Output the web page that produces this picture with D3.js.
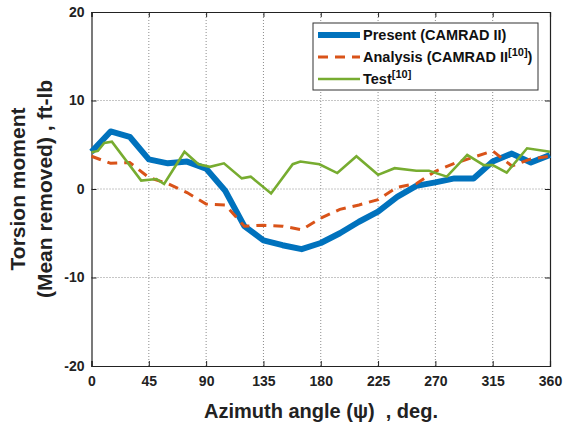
<!DOCTYPE html>
<html>
<head>
<meta charset="utf-8">
<script src="https://cdn.jsdelivr.net/npm/d3@7"></script>
<style>
  body { margin: 0; background: #fff; }
  text { font-family: Arial, "Liberation Sans", sans-serif; font-weight: bold; }
</style>
</head>
<body>
<div id="chart"></div>
<script>
// azimuth (deg) for the two analyses, every 15 deg
const azimuth = [0, 15, 30, 45, 60, 75, 90, 105, 120, 135, 150, 165, 180,
                 195, 210, 225, 240, 255, 270, 285, 300, 315, 330, 345, 360];
const present = [4.2, 6.5, 5.9, 3.35, 2.9, 3.1, 2.3, -0.2, -4.2, -5.8, -6.35, -6.8, -6.1,
                 -5.0, -3.7, -2.55, -0.9, 0.35, 0.75, 1.2, 1.2, 3.1, 4.0, 3.0, 3.85];
const analysis = [3.7, 2.9, 3.0, 1.3, 0.6, -0.4, -1.7, -1.8, -4.2, -4.1, -4.2, -4.6, -3.3,
                  -2.3, -1.8, -1.2, 0.2, 0.6, 2.0, 2.9, 3.6, 4.3, 2.6, 3.4, 3.7];
// test data, irregular azimuth stations
const testAz = [0, 5, 10, 16, 39, 51, 57, 73, 84, 93, 104, 118, 125, 141, 158, 164, 179,
                193, 208, 225, 238, 255, 265, 279, 295, 308, 315, 326, 342, 360];
const testVal = [4.15, 4.3, 5.2, 5.35, 0.95, 1.13, 0.56, 4.2, 2.8, 2.5, 2.9, 1.2, 1.4, -0.5, 2.8, 3.1, 2.8,
                 1.8, 3.7, 1.6, 2.35, 2.07, 2.07, 1.4, 3.85, 2.7, 2.7, 1.85, 4.6, 4.2];
const xTicks = [0, 45, 90, 135, 180, 225, 270, 315, 360];
const yTicks = [-20, -10, 0, 10, 20];

let width = 563, height = 425,
    margin = { left: 91.5, top: 12, right: 13, bottom: 59 };

let svg = d3.select('#chart')
            .append('svg')
            .attr('width', width)
            .attr('height', height);

let x = d3.scaleLinear()
          .domain([0, 360])
          .range([margin.left, width - margin.right]);

let y = d3.scaleLinear()
          .domain([-20, 20])
          .range([height - margin.bottom, margin.top]);

// grid
let grid = svg.append('g');
grid.selectAll('line.gx')
    .data(xTicks.slice(1, -1))
    .enter().append('line')
    .attr('x1', d => x(d)).attr('x2', d => x(d))
    .attr('y1', y(-20)).attr('y2', y(20))
    .attr('stroke', '#8c8c8c').attr('stroke-width', 1)
    .attr('stroke-dasharray', '1,2');
grid.selectAll('line.gy')
    .data(yTicks.slice(1, -1))
    .enter().append('line')
    .attr('y1', d => y(d)).attr('y2', d => y(d))
    .attr('x1', x(0)).attr('x2', x(360))
    .attr('stroke', '#8c8c8c').attr('stroke-width', 1)
    .attr('stroke-dasharray', '1,2');

// axes (ticks inward, box)
let fmt = d => String(d); // plain hyphen minus like the original
let xAxis = d3.axisBottom(x).tickValues(xTicks).tickSize(-5).tickPadding(10).tickFormat(fmt);
let yAxis = d3.axisLeft(y).tickValues(yTicks).tickSize(-5).tickPadding(10).tickFormat(fmt);

let gx = svg.append('g')
   .attr('transform', 'translate(0,' + y(-20) + ')')
   .call(xAxis);
let gy = svg.append('g')
   .attr('transform', 'translate(' + x(0) + ',0)')
   .call(yAxis);
svg.append('g')
   .attr('transform', 'translate(0,' + y(20) + ')')
   .call(d3.axisTop(x).tickValues(xTicks).tickSize(-5).tickFormat(''));
svg.append('g')
   .attr('transform', 'translate(' + x(360) + ',0)')
   .call(d3.axisRight(y).tickValues(yTicks).tickSize(-5).tickFormat(''));

svg.selectAll('.domain').attr('stroke', '#222').attr('stroke-width', 1.2);
svg.selectAll('.tick line').attr('stroke', '#222');
svg.selectAll('.tick text')
   .style('font-size', '14px')
   .style('font-family', 'Arial, "Liberation Sans", sans-serif')
   .style('font-weight', 'bold')
   .attr('fill', '#222');
gy.selectAll('.tick text').attr('x', -7);

// lines
let lineA = d3.line().x((d, i) => x(azimuth[i])).y(d => y(d));
let lineT = d3.line().x((d, i) => x(testAz[i])).y(d => y(d));

let plot = svg.append('g');
plot.append('path')
    .datum(present)
    .attr('d', lineA)
    .attr('fill', 'none')
    .attr('stroke', '#0072BD')
    .attr('stroke-width', 6)
    .attr('stroke-linejoin', 'round');
plot.append('path')
    .datum(analysis)
    .attr('d', lineA)
    .attr('fill', 'none')
    .attr('stroke', '#D95319')
    .attr('stroke-width', 3)
    .attr('stroke-dasharray', '10,7');
plot.append('path')
    .datum(testVal)
    .attr('d', lineT)
    .attr('fill', 'none')
    .attr('stroke', '#77AC30')
    .attr('stroke-width', 2.6);

// axis titles
svg.append('text')
   .attr('x', 321).attr('y', 418)
   .attr('text-anchor', 'middle')
   .style('font-size', '20px')
   .style('white-space', 'pre')
   .attr('fill', '#222')
   .text('Azimuth angle (\u03c8)\u00a0\u00a0, deg.');

let yt = svg.append('text')
   .attr('transform', 'translate(25,189) rotate(-90)')
   .attr('text-anchor', 'middle')
   .style('font-size', '21px')
   .attr('fill', '#222');
yt.append('tspan').attr('x', 0).attr('y', 0).text('Torsion moment');
yt.append('tspan').attr('x', 0).attr('y', 27).text('(Mean removed) , ft-lb');

// legend
let leg = svg.append('g').attr('transform', 'translate(313,23)');
leg.append('rect')
   .attr('width', 225).attr('height', 67)
   .attr('fill', '#fff')
   .attr('stroke', '#333').attr('stroke-width', 1);
let items = [
  { name: 'Present (CAMRAD II)', sup: '', tail: '', color: '#0072BD', w: 6, dash: null },
  { name: 'Analysis (CAMRAD II', sup: '[10]', tail: ')', color: '#D95319', w: 3, dash: '10,7' },
  { name: 'Test', sup: '[10]', tail: '', color: '#77AC30', w: 2.6, dash: null }
];
items.forEach(function (it, i) {
  let cy = 12 + i * 22;
  leg.append('line')
     .attr('x1', 5).attr('x2', 47)
     .attr('y1', cy).attr('y2', cy)
     .attr('stroke', it.color).attr('stroke-width', it.w)
     .attr('stroke-dasharray', it.dash);
  let t = leg.append('text')
     .attr('x', 50).attr('y', cy + 5)
     .style('font-size', '14.5px')
     .attr('fill', '#111');
  t.append('tspan').text(it.name);
  if (it.sup) {
    t.append('tspan').attr('dy', -6).style('font-size', '11px').text(it.sup);
    if (it.tail) t.append('tspan').attr('dy', 6).text(it.tail);
  }
});
</script>
</body>
</html>
